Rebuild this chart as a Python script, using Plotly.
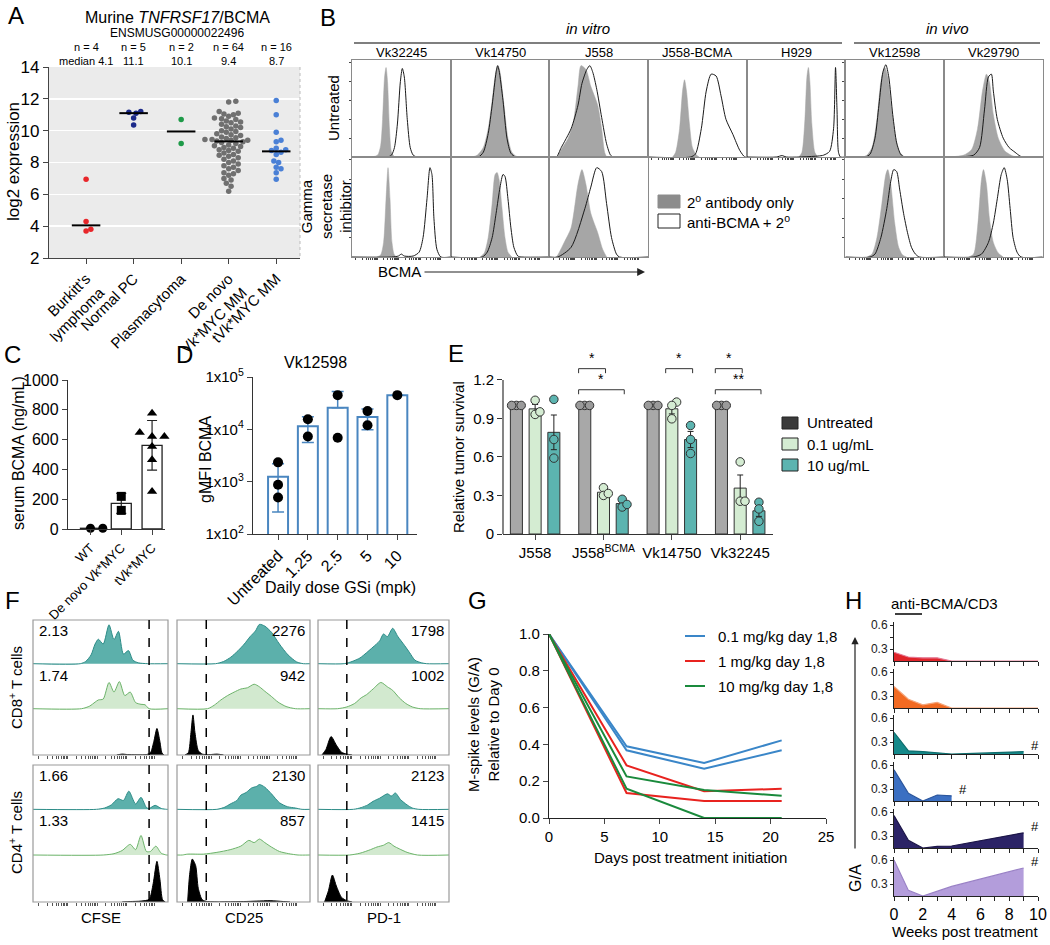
import numpy as np
import plotly.graph_objects as go

W, H = 1050, 945
FONT = "Liberation Sans, Arial, Helvetica, sans-serif"

# ======================= DATA =======================
# ---- A
A_CATS = ["Burkitt's<br>lymphoma", "Normal PC", "Plasmacytoma", "De novo<br>Vk*MYC MM", "tVk*MYC MM"]
A_N = ["n = 4", "n = 5", "n = 2", "n = 64", "n = 16"]
A_MED = ["median 4.1", "11.1", "10.1", "9.4", "8.7"]
A_BURKITT = [6.95, 4.3, 3.8, 3.7]
A_NORMALPC = [11.2, 11.15, 11.1, 10.8, 10.35]
A_PLASMACYTOMA = [10.7, 9.2]
A_DENOVO = [11.85, 11.8, 11.2, 11.1, 11.05, 11.0, 10.9, 10.8, 10.75, 10.7,
            10.6, 10.55, 10.5, 10.4, 10.3, 10.25, 10.2, 10.1, 10.0, 9.95,
            9.9, 9.8, 9.75, 9.7, 9.6, 9.55, 9.5, 9.45, 9.45, 9.4,
            9.4, 9.35, 9.3, 9.25, 9.2, 9.1, 9.05, 9.0, 8.95, 8.9,
            8.8, 8.75, 8.7, 8.6, 8.5, 8.45, 8.4, 8.3, 8.2, 8.1,
            8.0, 7.9, 7.8, 7.7, 7.6, 7.5, 7.35, 7.3, 7.2, 7.0,
            6.9, 6.7, 6.5, 6.2]
A_TVK = [11.9, 11.0, 9.9, 9.4, 9.3, 8.9, 8.8, 8.75, 8.65, 8.5, 8.1, 8.0, 7.7, 7.6, 7.35, 6.95]

# ---- B (flow histograms, x = normalised fluorescence, y = normalised count)
B_COLS = ["Vk32245", "Vk14750", "J558", "J558-BCMA", "H929", "Vk12598", "Vk29790"]
B_UNT_GRAY = [
    [(0.20, 0), (0.26, 0.02), (0.29, 0.12), (0.31, 0.4), (0.33, 0.85), (0.345, 0.95), (0.36, 0.8), (0.38, 0.3), (0.40, 0.05), (0.43, 0)],
    [(0.22, 0), (0.27, 0.02), (0.33, 0.1), (0.38, 0.3), (0.42, 0.6), (0.46, 0.92), (0.48, 0.97), (0.50, 0.9), (0.54, 0.55), (0.58, 0.2), (0.62, 0.05), (0.66, 0.01), (0.7, 0)],
    [(0.08, 0), (0.12, 0.08), (0.19, 0.2), (0.24, 0.35), (0.29, 0.75), (0.32, 0.97), (0.37, 0.93), (0.42, 0.75), (0.49, 0.55), (0.53, 0.3), (0.56, 0.05), (0.58, 0)],
    [(0.25, 0), (0.28, 0.05), (0.32, 0.3), (0.35, 0.7), (0.37, 0.82), (0.39, 0.7), (0.42, 0.35), (0.45, 0.1), (0.49, 0.02), (0.52, 0)],
    [(0.53, 0), (0.56, 0.05), (0.59, 0.4), (0.61, 0.85), (0.625, 0.95), (0.64, 0.8), (0.66, 0.35), (0.69, 0.05), (0.72, 0)],
    [(0.18, 0), (0.22, 0.02), (0.27, 0.1), (0.32, 0.4), (0.36, 0.8), (0.40, 0.95), (0.43, 0.85), (0.47, 0.5), (0.51, 0.2), (0.55, 0.05), (0.6, 0)],
    [(0.05, 0), (0.2, 0.02), (0.28, 0.08), (0.34, 0.3), (0.39, 0.7), (0.43, 0.88), (0.46, 0.8), (0.5, 0.45), (0.55, 0.2), (0.62, 0.06), (0.7, 0.01), (0.75, 0)],
]
B_UNT_BLACK = [
    [(0.36, 0), (0.40, 0.02), (0.43, 0.1), (0.46, 0.35), (0.49, 0.8), (0.51, 0.94), (0.53, 0.85), (0.56, 0.4), (0.59, 0.1), (0.62, 0.02), (0.66, 0)],
    [(0.28, 0), (0.33, 0.05), (0.38, 0.25), (0.42, 0.55), (0.46, 0.9), (0.475, 0.97), (0.49, 0.92), (0.53, 0.6), (0.57, 0.2), (0.61, 0.04), (0.66, 0)],
    [(0.07, 0), (0.12, 0.1), (0.22, 0.3), (0.29, 0.55), (0.33, 0.78), (0.38, 0.93), (0.41, 0.97), (0.44, 0.9), (0.48, 0.72), (0.53, 0.42), (0.58, 0.14), (0.62, 0.02), (0.65, 0)],
    [(0.43, 0), (0.48, 0.03), (0.54, 0.3), (0.59, 0.7), (0.64, 0.88), (0.69, 0.86), (0.74, 0.65), (0.79, 0.4), (0.86, 0.24), (0.93, 0.07), (0.98, 0)],
    [(0.30, 0), (0.36, 0.015), (0.40, 0), (0.72, 0.01), (0.78, 0.02), (0.84, 0.06), (0.88, 0.3), (0.90, 0.95), (0.915, 0.5), (0.93, 0.05), (0.95, 0)],
    [(0.2, 0), (0.25, 0.03), (0.3, 0.2), (0.34, 0.55), (0.38, 0.9), (0.41, 0.98), (0.44, 0.85), (0.48, 0.45), (0.52, 0.15), (0.56, 0.03), (0.6, 0)],
    [(0.1, 0), (0.3, 0.02), (0.36, 0.1), (0.41, 0.5), (0.45, 0.85), (0.48, 0.88), (0.5, 0.7), (0.54, 0.4), (0.6, 0.2), (0.66, 0.1), (0.72, 0.05), (0.77, 0.01), (0.8, 0)],
]
B_GSI_COLS = [0, 1, 2, 5, 6]
B_GSI_GRAY = [
    [(0.25, 0), (0.29, 0.02), (0.32, 0.15), (0.345, 0.6), (0.365, 0.92), (0.385, 0.6), (0.405, 0.15), (0.43, 0.02), (0.46, 0)],
    [(0.3, 0), (0.34, 0.04), (0.38, 0.2), (0.42, 0.55), (0.45, 0.85), (0.47, 0.87), (0.49, 0.8), (0.52, 0.5), (0.55, 0.2), (0.58, 0.05), (0.62, 0)],
    [(0.07, 0), (0.085, 0.02), (0.15, 0.15), (0.22, 0.3), (0.29, 0.75), (0.33, 0.9), (0.37, 0.75), (0.42, 0.45), (0.49, 0.25), (0.54, 0.08), (0.58, 0)],
    [(0.22, 0), (0.27, 0.03), (0.32, 0.2), (0.37, 0.55), (0.41, 0.85), (0.43, 0.9), (0.46, 0.75), (0.50, 0.35), (0.54, 0.1), (0.58, 0.02), (0.62, 0)],
    [(0.25, 0), (0.3, 0.03), (0.34, 0.3), (0.38, 0.8), (0.40, 0.9), (0.43, 0.75), (0.46, 0.4), (0.5, 0.15), (0.55, 0.04), (0.6, 0)],
]
B_GSI_BLACK = [
    [(0.40, 0), (0.47, 0.01), (0.50, 0.03), (0.53, 0.01), (0.62, 0.01), (0.68, 0.05), (0.72, 0.2), (0.76, 0.6), (0.79, 0.92), (0.81, 0.85), (0.83, 0.4), (0.86, 0.08), (0.9, 0)],
    [(0.32, 0), (0.37, 0.05), (0.42, 0.2), (0.46, 0.45), (0.50, 0.72), (0.53, 0.85), (0.55, 0.83), (0.58, 0.6), (0.61, 0.3), (0.64, 0.1), (0.68, 0.01), (0.72, 0)],
    [(0.085, 0), (0.22, 0.1), (0.36, 0.5), (0.42, 0.72), (0.48, 0.92), (0.53, 0.88), (0.58, 0.55), (0.63, 0.2), (0.68, 0.03), (0.71, 0)],
    [(0.25, 0), (0.3, 0.03), (0.36, 0.2), (0.42, 0.5), (0.46, 0.78), (0.49, 0.9), (0.52, 0.88), (0.55, 0.7), (0.59, 0.45), (0.63, 0.25), (0.67, 0.1), (0.71, 0.03), (0.75, 0)],
    [(0.3, 0), (0.38, 0.03), (0.45, 0.15), (0.5, 0.35), (0.54, 0.6), (0.58, 0.85), (0.61, 0.92), (0.64, 0.8), (0.67, 0.5), (0.7, 0.2), (0.74, 0.05), (0.78, 0)],
]

# ---- C
C_CATS = ["WT", "De novo Vk*MYC", "tVk*MYC"]
C_WT = [5, 5]
C_DENOVO = [219, 125]
C_TVK = [777, 620, 647, 620, 553, 464, 252]

# ---- D
D_CATS = ["Untreated", "1.25", "2.5", "5", "10"]
D_VALUES = [[2340, 870, 500], [15600, 7300], [45000, 6900], [22300, 12000], [45000]]

# ---- E
E_LINES = ["J558", "J558<sup>BCMA</sup>", "Vk14750", "Vk32245"]
E_TREATS = ["Untreated", "0.1 ug/mL", "10 ug/mL"]
E_UNTREATED = [[1.0, 1.0, 1.0], [1.0, 1.0, 1.0], [1.0, 1.0, 1.0], [1.0, 1.0, 1.0]]
E_LOW = [[1.04, 0.93, 0.95], [0.36, 0.30, 0.315], [1.026, 1.0, 0.896], [0.561, 0.255, 0.255]]
E_HIGH = [[1.047, 0.735, 0.59], [0.27, 0.21, 0.23], [0.844, 0.735, 0.626], [0.247, 0.195, 0.099]]
# (group, bar a, bar b, level, label)
E_SIG = [(1, 0, 1, 1.286, "*"), (1, 0, 2, 1.122, "*"), (2, 1, 2, 1.286, "*"),
         (3, 0, 1, 1.286, "*"), (3, 0, 2, 1.122, "**")]

# ---- F (lanes: teal = top, green = middle, black = bottom); columns CFSE, CD25, PD-1
F_MARKERS = ["CFSE", "CD25", "PD-1"]
F_GATE = [0.86, 0.22, 0.22]
F_CD8_LABELS = [["2.13", "1.74"], ["2276", "942"], ["1798", "1002"]]
F_CD4_LABELS = [["1.66", "1.33"], ["2130", "857"], ["2123", "1415"]]
F_CD8_TEAL = [
    [(0.35, 0), (0.39, 0.05), (0.43, 0.2), (0.46, 0.45), (0.484, 0.56), (0.52, 0.45), (0.563, 0.89), (0.6, 0.55), (0.633, 0.74), (0.67, 0.22), (0.707, 0.3), (0.74, 0.08), (0.78, 0.02), (0.85, 0)],
    [(0.29, 0), (0.35, 0.05), (0.405, 0.15), (0.46, 0.3), (0.506, 0.45), (0.55, 0.62), (0.59, 0.75), (0.62, 0.9), (0.66, 0.86), (0.71, 0.72), (0.77, 0.45), (0.835, 0.2), (0.9, 0.04), (0.95, 0)],
    [(0.2, 0), (0.26, 0.05), (0.32, 0.13), (0.37, 0.25), (0.42, 0.38), (0.47, 0.52), (0.5, 0.68), (0.53, 0.62), (0.57, 0.81), (0.61, 0.62), (0.66, 0.42), (0.7, 0.25), (0.74, 0.08), (0.79, 0.02), (0.83, 0)],
]
F_CD8_GREEN = [
    [(0.36, 0), (0.42, 0.06), (0.46, 0.15), (0.484, 0.2), (0.52, 0.22), (0.563, 0.6), (0.6, 0.38), (0.64, 0.62), (0.68, 0.3), (0.72, 0.38), (0.76, 0.14), (0.8, 0.1), (0.83, 0.09), (0.86, 0)],
    [(0.23, 0), (0.28, 0.08), (0.33, 0.2), (0.38, 0.3), (0.43, 0.38), (0.48, 0.45), (0.53, 0.48), (0.58, 0.56), (0.62, 0.5), (0.66, 0.4), (0.71, 0.28), (0.76, 0.15), (0.82, 0.05), (0.89, 0)],
    [(0.15, 0), (0.22, 0.04), (0.28, 0.12), (0.33, 0.25), (0.37, 0.32), (0.42, 0.45), (0.48, 0.6), (0.53, 0.5), (0.57, 0.42), (0.62, 0.25), (0.67, 0.12), (0.72, 0.04), (0.78, 0)],
]
F_CD8_BLACK = [
    [(0.62, 0), (0.66, 0.02), (0.7, 0.01), (0.84, 0.01), (0.87, 0.05), (0.895, 0.3), (0.918, 0.59), (0.94, 0.3), (0.955, 0.05), (0.97, 0)],
    [(0.06, 0), (0.085, 0.05), (0.105, 0.5), (0.12, 0.89), (0.135, 0.5), (0.16, 0.1), (0.19, 0.02), (0.25, 0.01), (0.3, 0.02), (0.35, 0)],
    [(0.03, 0), (0.06, 0.12), (0.1, 0.41), (0.14, 0.22), (0.18, 0.06), (0.22, 0.02), (0.26, 0)],
]
F_CD4_TEAL = [
    [(0.47, 0), (0.53, 0.03), (0.58, 0.1), (0.63, 0.24), (0.67, 0.2), (0.71, 0.41), (0.76, 0.12), (0.8, 0.27), (0.84, 0.04), (0.86, 0.02), (0.905, 0.09), (0.95, 0.02), (0.99, 0)],
    [(0.3, 0), (0.36, 0.05), (0.4, 0.12), (0.45, 0.2), (0.48, 0.32), (0.52, 0.38), (0.56, 0.48), (0.6, 0.52), (0.62, 0.56), (0.66, 0.5), (0.71, 0.35), (0.77, 0.15), (0.83, 0.06), (0.89, 0.03), (0.94, 0)],
    [(0.27, 0), (0.33, 0.04), (0.38, 0.1), (0.42, 0.18), (0.47, 0.25), (0.53, 0.35), (0.56, 0.3), (0.59, 0.37), (0.63, 0.22), (0.68, 0.1), (0.72, 0.03), (0.77, 0)],
]
F_CD4_GREEN = [
    [(0.52, 0), (0.6, 0.03), (0.66, 0.1), (0.72, 0.24), (0.76, 0.12), (0.8, 0.44), (0.84, 0.08), (0.87, 0.08), (0.91, 0.2), (0.95, 0.04), (0.99, 0)],
    [(0.04, 0), (0.08, 0.02), (0.2, 0.02), (0.3, 0.06), (0.4, 0.12), (0.48, 0.2), (0.54, 0.33), (0.58, 0.28), (0.62, 0.36), (0.66, 0.28), (0.71, 0.18), (0.77, 0.08), (0.84, 0.03), (0.91, 0)],
    [(0.24, 0), (0.32, 0.04), (0.4, 0.12), (0.45, 0.18), (0.5, 0.22), (0.54, 0.28), (0.58, 0.2), (0.62, 0.14), (0.68, 0.06), (0.76, 0)],
]
F_CD4_BLACK = [
    [(0.66, 0), (0.72, 0.01), (0.8, 0.02), (0.86, 0.06), (0.89, 0.4), (0.918, 0.89), (0.94, 0.5), (0.96, 0.05), (0.98, 0)],
    [(0.08, 0), (0.095, 0.6), (0.115, 0.94), (0.14, 0.8), (0.16, 0.3), (0.19, 0.05), (0.23, 0.01), (0.5, 0.01), (0.6, 0.02), (0.7, 0.03), (0.8, 0.01), (0.85, 0)],
    [(0.05, 0), (0.08, 0.25), (0.11, 0.59), (0.14, 0.35), (0.18, 0.1), (0.22, 0.03), (0.26, 0)],
]

# ---- G
G_DAYS = [0, 7, 14, 21]
G_LEGEND = ["0.1 mg/kg day 1,8", "1 mg/kg day 1,8", "10 mg/kg day 1,8"]
G_01 = [[1.0, 0.39, 0.299, 0.422], [1.0, 0.368, 0.268, 0.368]]
G_1 = [[1.0, 0.286, 0.145, 0.159], [1.0, 0.136, 0.092, 0.092]]
G_10 = [[1.0, 0.226, 0.152, 0.121], [1.0, 0.159, 0.0, 0.0]]

# ---- H (weeks, G/A)
H_WEEKS = [[0, 1, 2, 3, 4, 10], [0, 1, 2, 3, 4, 10], [0, 1, 2, 3, 4, 6, 9],
           [0, 1, 2, 3, 4], [0, 1, 2, 3, 4, 9], [0, 1, 2, 4, 9]]
H_GA = [[0.26, 0.20, 0.19, 0.19, 0.15, 0.15], [0.42, 0.26, 0.19, 0.22, 0.15, 0.15],
        [0.42, 0.19, 0.18, 0.165, 0.15, 0.16, 0.18], [0.54, 0.245, 0.15, 0.225, 0.215],
        [0.555, 0.245, 0.15, 0.17, 0.175, 0.34], [0.60, 0.22, 0.15, 0.27, 0.50]]
H_PROGRESS = [False, False, True, True, True, True]

# ======================= BUILD =======================
layout = dict(template='none', width=W, height=H, margin=dict(l=0, r=0, t=0, b=0, pad=0, autoexpand=False),
              paper_bgcolor='white', plot_bgcolor='rgba(0,0,0,0)', showlegend=False,
              font=dict(family=FONT, color='black', size=14), hovermode=False)
fig = go.Figure()
ANN, SHP = [], []
_n = [0]


def TF(s, c='black'):
    return dict(size=s, family=FONT, color=c)


def AX(**kw):
    d = dict(showgrid=False, zeroline=False, showline=False, ticks='', showticklabels=False,
             fixedrange=True, automargin=False, tickfont=TF(14))
    d.update(kw)
    return d


def axes(x0, x1, y0, y1, xa, ya):
    _n[0] += 1
    k = _n[0]
    s = '' if k == 1 else str(k)
    xd = dict(domain=[x0 / W, x1 / W], anchor='y' + s)
    yd = dict(domain=[1 - y1 / H, 1 - y0 / H], anchor='x' + s)
    xd.update(xa)
    yd.update(ya)
    layout['xaxis' + s] = xd
    layout['yaxis' + s] = yd
    return 'x' + s, 'y' + s


def T(x, y, s, size=14, xa='center', ya='middle', angle=0, color='black'):
    ANN.append(dict(x=x / W, y=1 - y / H, xref='paper', yref='paper', text=s, showarrow=False,
                    font=TF(size, color), xanchor=xa, yanchor=ya, textangle=angle))


def L(x0, y0, x1, y1, color='black', width=1, dash=None):
    SHP.append(dict(type='line', xref='paper', yref='paper', x0=x0 / W, x1=x1 / W,
                    y0=1 - y0 / H, y1=1 - y1 / H, line=dict(color=color, width=width, dash=dash)))


def R(x0, y0, x1, y1, fill='rgba(0,0,0,0)', line='black', width=1, layer='above'):
    SHP.append(dict(type='rect', xref='paper', yref='paper', x0=x0 / W, x1=x1 / W,
                    y0=1 - y1 / H, y1=1 - y0 / H, fillcolor=fill,
                    line=dict(color=line, width=width), layer=layer))


def swarm(vals, sx, sy, d, step):
    order = sorted(range(len(vals)), key=lambda i: vals[i])
    placed, offs = [], [0.0] * len(vals)
    for i in order:
        v = vals[i]
        k = 0
        while True:
            cands = [0.0] if k == 0 else [k * step, -k * step]
            found = None
            for c in cands:
                if all(((c - po) * sx) ** 2 + ((v - pv) * sy) ** 2 >= d * d for pv, po in placed):
                    found = c
                    break
            if found is not None:
                break
            k += 1
        offs[i] = found
        placed.append((v, found))
    return offs


def curve(xa, ya, pts, line, fill=None, width=1.0, extend=False):
    xs = [p[0] for p in pts]
    ys = [p[1] for p in pts]
    if extend:
        xs = [0.0] + xs + [1.0]
        ys = [0.0] + ys + [0.0]
    fig.add_trace(go.Scatter(x=xs, y=ys, mode='lines', xaxis=xa, yaxis=ya,
                             line=dict(color=line, width=width, shape='spline', smoothing=0.7),
                             fill='tozeroy' if fill else None, fillcolor=fill))


LOGTICKS = [round((d + np.log10(m)) / 4.6 + 0.04, 4) for d in range(4) for m in range(1, 10)]
LOGTICKS = [t for t in LOGTICKS if t < 0.99]

# ---------------- Panel A ----------------
T(16, 16, "A", 24)
A_X0, A_X1, A_R = 49, 300, [-0.78, 4.5]
xa, ya = axes(A_X0, A_X1, 67, 258,
              AX(range=A_R, showline=True, linecolor='#444', linewidth=1.2, ticks='outside', ticklen=5,
                 tickcolor='#444', tickvals=list(range(5)), ticktext=A_CATS, showticklabels=True,
                 tickangle=-45, tickfont=TF(15)),
              AX(range=[2, 14], showline=True, linecolor='#444', linewidth=1.2, ticks='outside', ticklen=5,
                 tickcolor='#444', tickvals=list(range(2, 15, 2)), showticklabels=True, tickfont=TF(17),
                 showgrid=True, gridcolor='white', gridwidth=1.5))
R(A_X0, 67, A_X1, 258, fill='#ebebeb', line='rgba(0,0,0,0)', width=0, layer='below')
L(A_X1, 67, A_X1, 258, color='#bbbbbb', width=1, dash='dot')
A_COLORS = ['#e8262a', '#1c2a8a', '#1e9a48', '#707070', '#4a80d6']
for i, (vals, col) in enumerate(zip([A_BURKITT, A_NORMALPC, A_PLASMACYTOMA, A_DENOVO, A_TVK], A_COLORS)):
    offs = swarm(vals, 47.5, 15.9, 5.0, 0.05)
    fig.add_trace(go.Scatter(x=[i + o for o in offs], y=vals, mode='markers', xaxis=xa, yaxis=ya,
                             marker=dict(size=5.5, color=col)))
    med = float(np.median(vals))
    fig.add_trace(go.Scatter(x=[i - 0.3, i + 0.3], y=[med, med], mode='lines', xaxis=xa, yaxis=ya,
                             line=dict(color='black', width=2)))
    px = A_X0 + (i - A_R[0]) / (A_R[1] - A_R[0]) * (A_X1 - A_X0)
    T(px, 47, A_N[i], 11)
    T(px, 61, A_MED[i], 11)
T(177, 17, "Murine <i>TNFRSF17</i>/BCMA", 16)
T(177, 33, "ENSMUSG00000022496", 12)
T(13, 162, "log2 expression", 17, angle=-90)

# ---------------- Panel B ----------------
T(328, 17, "B", 24)
B_EDGES = [352, 450.7, 549.4, 648, 746.7, 845.4, 944, 1042.7]
B_ROWS = [(60, 157), (157, 257)]
T(588, 28, "<i>in vitro</i>", 15)
T(947, 28, "<i>in vivo</i>", 15)
L(354, 43, 842, 43, width=1.2)
L(854, 43, 1040, 43, width=1.2)
for c, name in enumerate(B_COLS):
    T((B_EDGES[c] + B_EDGES[c + 1]) / 2, 53, name, 13)
T(333, 108, "Untreated", 15, angle=-90)
T(326, 207, "Gamma<br>secretase<br>inhibitor", 15, angle=-90)
GRAY_FILL, GRAY_LINE = '#a6a6a6', '#a6a6a6'
for c in range(7):
    bottom_ticks = c in (3, 4)
    xa, ya = axes(B_EDGES[c], B_EDGES[c + 1], B_ROWS[0][0], B_ROWS[0][1],
                  AX(range=[0, 1], showline=True, mirror=True, linecolor='#8a8a8a', linewidth=1,
                     ticks='outside' if bottom_ticks else '', ticklen=2, tickcolor='#444',
                     tickvals=LOGTICKS if bottom_ticks else None),
                  AX(range=[0, 1.03], showline=True, mirror=True, linecolor='#8a8a8a', linewidth=1,
                     ticks='outside' if c in (0, 5) else '', ticklen=2, tickcolor='#444',
                     tickvals=[0.2, 0.4, 0.6, 0.8, 1.0] if c in (0, 5) else None))
    curve(xa, ya, B_UNT_GRAY[c], GRAY_LINE, fill=GRAY_FILL, width=0.5)
    curve(xa, ya, B_UNT_BLACK[c], '#1a1a1a', width=1, extend=True)
for j, c in enumerate(B_GSI_COLS):
    xa, ya = axes(B_EDGES[c], B_EDGES[c + 1], B_ROWS[1][0], B_ROWS[1][1],
                  AX(range=[0, 1], showline=True, mirror=True, linecolor='#8a8a8a', linewidth=1,
                     ticks='outside', ticklen=2, tickcolor='#444', tickvals=LOGTICKS),
                  AX(range=[0, 1.03], showline=True, mirror=True, linecolor='#8a8a8a', linewidth=1,
                     ticks='outside' if c in (0, 5) else '', ticklen=2, tickcolor='#444',
                     tickvals=[0.2, 0.4, 0.6, 0.8, 1.0] if c in (0, 5) else None))
    curve(xa, ya, B_GSI_GRAY[j], GRAY_LINE, fill=GRAY_FILL, width=0.5)
    curve(xa, ya, B_GSI_BLACK[j], '#1a1a1a', width=1, extend=True)
R(658, 195, 680, 208, fill='#8c8c8c', line='#8c8c8c')
R(658, 214, 680, 228, fill='white', line='#222')
T(685, 201, "2<sup>o</sup> antibody only", 15, xa='left')
T(685, 221, "anti-BCMA + 2<sup>o</sup>", 15, xa='left')
T(376, 272, "BCMA", 15, xa='left')
ANN.append(dict(x=645 / W, y=1 - 272 / H, xref='paper', yref='paper', ax=-222, ay=0, text='',
                showarrow=True, arrowhead=2, arrowsize=1.3, arrowwidth=1.2, arrowcolor='#222'))

# ---------------- Panel C ----------------
T(12, 355, "C", 24)
xa, ya = axes(68, 165, 380, 529,
              AX(range=[-0.73, 2.42], showline=True, linecolor='#333', linewidth=1.2, ticks='outside',
                 ticklen=5, tickvals=[0, 1, 2], ticktext=C_CATS, showticklabels=True, tickangle=-45,
                 tickfont=TF(13)),
              AX(range=[0, 1000], showline=True, linecolor='#333', linewidth=1.2, ticks='outside', ticklen=5,
                 tickvals=list(range(0, 1001, 200)), showticklabels=True, tickfont=TF(16)))
C_GROUPS = [C_WT, C_DENOVO, C_TVK]
C_SYM = ['circle', 'square', 'triangle-up']
fig.add_trace(go.Bar(x=[0, 1, 2], y=[np.mean(g) for g in C_GROUPS], width=0.65, xaxis=xa, yaxis=ya,
                     marker=dict(color='white', line=dict(color='#222', width=1.3)),
                     error_y=dict(type='data', array=[np.std(g, ddof=1) for g in C_GROUPS],
                                  color='#222', thickness=1.2, width=5)))
for i, g in enumerate(C_GROUPS):
    offs = swarm(g, 31, 0.149, 9.5, 0.2)
    fig.add_trace(go.Scatter(x=[i + o for o in offs], y=g, mode='markers', xaxis=xa, yaxis=ya, cliponaxis=False,
                             marker=dict(symbol=C_SYM[i], size=9, color='black')))
T(18, 453, "serum BCMA (ng/mL)", 16, angle=-90)

# ---------------- Panel D ----------------
T(184, 355, "D", 24)
xa, ya = axes(253, 417, 377, 534,
              AX(range=[-0.84, 4.66], showline=True, linecolor='#333', linewidth=1.2, ticks='outside',
                 ticklen=5, tickvals=list(range(5)), ticktext=D_CATS, showticklabels=True, tickangle=-45,
                 tickfont=TF(16)),
              AX(type='log', range=[2, 5], showline=True, linecolor='#333', linewidth=1.2, ticks='outside',
                 ticklen=5, tickvals=[1e2, 1e3, 1e4, 1e5],
                 ticktext=["1x10<sup>2</sup>", "1x10<sup>3</sup>", "1x10<sup>4</sup>", "1x10<sup>5</sup>"],
                 showticklabels=True, tickfont=TF(15)))
D_MEAN = [float(np.mean(v)) for v in D_VALUES]
D_SD = [float(np.std(v, ddof=1)) if len(v) > 1 else 0.0 for v in D_VALUES]
D_SDM = [s if m - s > 0 else 0.0 for m, s in zip(D_MEAN, D_SD)]
DBLUE = '#4a86c0'
fig.add_trace(go.Bar(x=list(range(5)), y=D_MEAN, width=0.67, xaxis=xa, yaxis=ya,
                     marker=dict(color='white', line=dict(color=DBLUE, width=2)),
                     error_y=dict(type='data', array=D_SD, arrayminus=D_SDM, symmetric=False,
                                  color=DBLUE, thickness=1.5, width=6)))
for i, v in enumerate(D_VALUES):
    fig.add_trace(go.Scatter(x=[i] * len(v), y=v, mode='markers', xaxis=xa, yaxis=ya, cliponaxis=False,
                             marker=dict(size=10, color='black')))
T(315, 363, "Vk12598", 16)
T(205, 460, "gMFI BCMA", 16, angle=-90)
T(340, 587, "Daily dose GSi (mpk)", 16)

# ---------------- Panel E ----------------
T(456, 353, "E", 24)
E_X0 = 503
xa, ya = axes(E_X0, 773, 354, 534,
              AX(range=[-0.47, 3.48], showline=True, linecolor='#333', linewidth=1.2, ticks='outside',
                 ticklen=5, tickvals=[0, 1, 2, 3], ticktext=E_LINES, showticklabels=True, tickfont=TF(15)),
              AX(range=[0, 1.4], ticks='outside', ticklen=5, tickcolor='#333',
                 tickvals=[0, 0.3, 0.6, 0.9, 1.2], ticktext=['0', '0.3', '0.6', '0.9', '1.2'],
                 showticklabels=True, tickfont=TF(15)))
L(E_X0, 380, E_X0, 534, color='#333', width=1.2)
E_OFF = [-0.274, 0.0, 0.274]
E_BAR = ['#a8a8a8', '#d4ecd2', '#5cb4b0']
E_DOT = ['#9a9a9a', '#d4ecd2', '#5cb4b0']
E_LEG = ['#3a3a3a', '#d4ecd2', '#5cb4b0']
for k, grp in enumerate([E_UNTREATED, E_LOW, E_HIGH]):
    means = [float(np.mean(v)) for v in grp]
    sems = [float(np.std(v, ddof=1) / np.sqrt(len(v))) for v in grp]
    fig.add_trace(go.Bar(x=[g + E_OFF[k] for g in range(4)], y=means, width=0.176, xaxis=xa, yaxis=ya,
                         marker=dict(color=E_BAR[k], line=dict(color='#333', width=1)),
                         error_y=dict(type='data', array=sems, color='#222', thickness=1, width=3)))
for k, grp in enumerate([E_UNTREATED, E_LOW, E_HIGH]):
    for g, v in enumerate(grp):
        offs = swarm(v, 68.3, 128.3, 4.5, 0.035)
        fig.add_trace(go.Scatter(x=[g + E_OFF[k] + o for o in offs], y=v, mode='markers', xaxis=xa, yaxis=ya,
                                 marker=dict(size=8.5, color=E_DOT[k], line=dict(color='#333', width=1))))
for g, a, b, lvl, lab in E_SIG:
    x0, x1 = g + E_OFF[a] - 0.09, g + E_OFF[b] + 0.03
    for sh in [(x0, lvl, x1, lvl), (x0, lvl, x0, lvl - 0.035), (x1, lvl, x1, lvl - 0.035)]:
        SHP.append(dict(type='line', xref=xa, yref=ya, x0=sh[0], y0=sh[1], x1=sh[2], y1=sh[3],
                        line=dict(color='#333', width=1)))
    ANN.append(dict(x=(x0 + x1) / 2, y=lvl + 0.005, xref=xa, yref=ya, text=lab, showarrow=False,
                    font=TF(14), yanchor='bottom'))
for k, lab in enumerate(E_TREATS):
    yc = 423 + k * 21
    R(782, yc - 6, 798, yc + 6, fill=E_LEG[k], line='#222')
    T(805, yc, lab, 15, xa='left')
T(458, 457, "Relative tumor survival", 15, angle=-90)

# ---------------- Panel F ----------------
T(12, 600, "F", 24)
F_COLS_X = [(33, 168), (177, 310), (318, 449)]
F_BLOCKS = [(620, 755), (765, 902)]
TEAL_F, TEAL_L = '#5cb0ab', '#2d8c87'
GRN_F, GRN_L = '#d2e9cf', '#6cb36a'
for b, (teal, green, black, labels) in enumerate([(F_CD8_TEAL, F_CD8_GREEN, F_CD8_BLACK, F_CD8_LABELS),
                                                  (F_CD4_TEAL, F_CD4_GREEN, F_CD4_BLACK, F_CD4_LABELS)]):
    by0, by1 = F_BLOCKS[b]
    lh = (by1 - by0) / 3
    for c, (cx0, cx1) in enumerate(F_COLS_X):
        for lane, (pts, lc, fc) in enumerate([(teal[c], TEAL_L, TEAL_F), (green[c], GRN_L, GRN_F),
                                              (black[c], 'black', 'black')]):
            ly0 = by0 + lane * lh
            last = lane == 2
            xa, ya = axes(cx0, cx1, ly0, ly0 + lh,
                          AX(range=[0, 1], ticks='outside' if last else '', ticklen=3, tickcolor='#555',
                             tickvals=LOGTICKS if last else None),
                          AX(range=[-0.03 if not last else 0, 1.0]))
            curve(xa, ya, pts, lc, fill=fc, width=1, extend=not last)
        R(cx0, by0, cx1, by1, line='#9a9a9a', width=1.2)
        gx = cx0 + F_GATE[c] * (cx1 - cx0)
        L(gx, by0, gx, by1, color='black', width=1.5, dash='dash')
        for lane in range(2):
            ty = by0 + lane * lh + 10
            if c == 0:
                T(cx0 + 4, ty, labels[c][lane], 15, xa='left')
            else:
                T(cx1 - 3, ty, labels[c][lane], 15, xa='right')
for c, (cx0, cx1) in enumerate(F_COLS_X):
    T((cx0 + cx1) / 2, 917, F_MARKERS[c], 15)
T(15, 688, "CD8<sup>+</sup> T cells", 15, angle=-90)
T(15, 833, "CD4<sup>+</sup> T cells", 15, angle=-90)

# ---------------- Panel G ----------------
T(477, 600, "G", 24)
xa, ya = axes(549, 826, 634, 818,
              AX(range=[0, 25], showline=True, linecolor='#222', linewidth=1.2, ticks='outside', ticklen=5,
                 tickvals=[0, 5, 10, 15, 20, 25], showticklabels=True, tickfont=TF(15)),
              AX(range=[0, 1.0], showline=True, linecolor='#222', linewidth=1.2, ticks='outside', ticklen=5,
                 tickvals=[0, 0.2, 0.4, 0.6, 0.8, 1.0], ticktext=['0.0', '0.2', '0.4', '0.6', '0.8', '1.0'],
                 showticklabels=True, tickfont=TF(15)))
G_COLORS = ['#3a86c8', '#e8231f', '#1a8a3c']
for grp, col in zip([G_01, G_1, G_10], G_COLORS):
    for series in grp:
        fig.add_trace(go.Scatter(x=G_DAYS, y=series, mode='lines', xaxis=xa, yaxis=ya, cliponaxis=False,
                                 line=dict(color=col, width=2)))
for k, lab in enumerate(G_LEGEND):
    yy = 636 + k * 25
    L(685, yy, 705, yy, color=G_COLORS[k], width=2)
    T(716, yy, lab, 15, xa='left')
T(483, 725, "M-spike levels (G/A)<br>Relative to Day 0", 15, angle=-90)
T(690, 857, "Days post treatment initiation", 15)

# ---------------- Panel H ----------------
T(853, 600, "H", 24)
T(944, 603, "anti-BCMA/CD3", 15)
L(895, 614, 922, 614, width=1.5)
H_TOP = [625, 672, 718, 765, 812, 860]
H_FILL = ['#e0242a', '#f26a22', '#15898a', '#3b6fc2', '#2b2366', '#b39ddb']
H_LINE = ['#e57a95', '#f5a57a', '#0f6e6e', '#2a559c', '#1c1648', '#9a82c6']
for s in range(6):
    y06 = H_TOP[s]
    last = s == 5
    xa, ya = axes(894, 1038, y06 - 3.2, y06 + 36,
                  AX(range=[0, 10], showline=True, linecolor='#222', linewidth=1, ticks='outside', ticklen=4,
                     tickcolor='#222', tickvals=list(range(11)),
                     ticktext=[str(v) if v % 2 == 0 else '' for v in range(11)],
                     showticklabels=last, tickfont=TF(16)),
                  AX(range=[0.15, 0.64], showline=True, linecolor='#222', linewidth=1, ticks='outside', ticklen=3,
                     tickcolor='#222', tickvals=[0.3, 0.45, 0.6], ticktext=['0.3', '', '0.6'],
                     showticklabels=True, tickfont=TF(12, '#222')))
    fig.add_trace(go.Scatter(x=H_WEEKS[s], y=H_GA[s], mode='lines', xaxis=xa, yaxis=ya, fill='tozeroy',
                             fillcolor=H_FILL[s], line=dict(color=H_LINE[s], width=1.2)))
    if H_PROGRESS[s]:
        ANN.append(dict(x=H_WEEKS[s][-1] + 0.4, y=H_GA[s][-1] + 0.08, xref=xa, yref=ya, text='#',
                        showarrow=False, font=TF(13), xanchor='left'))
ANN.append(dict(x=855 / W, y=1 - 637 / H, xref='paper', yref='paper', ax=0, ay=213, text='',
                showarrow=True, arrowhead=2, arrowsize=1.2, arrowwidth=1.2, arrowcolor='#222'))
T(855, 878, "G/A", 16, angle=-90)
T(965, 931, "Weeks post treatment", 15)

layout['annotations'] = ANN
layout['shapes'] = SHP
fig.update_layout(**layout)
fig.write_html("out.html", config={'displayModeBar': False, 'staticPlot': True},
               post_script="document.body.style.margin='0px';document.body.style.padding='0px';")
